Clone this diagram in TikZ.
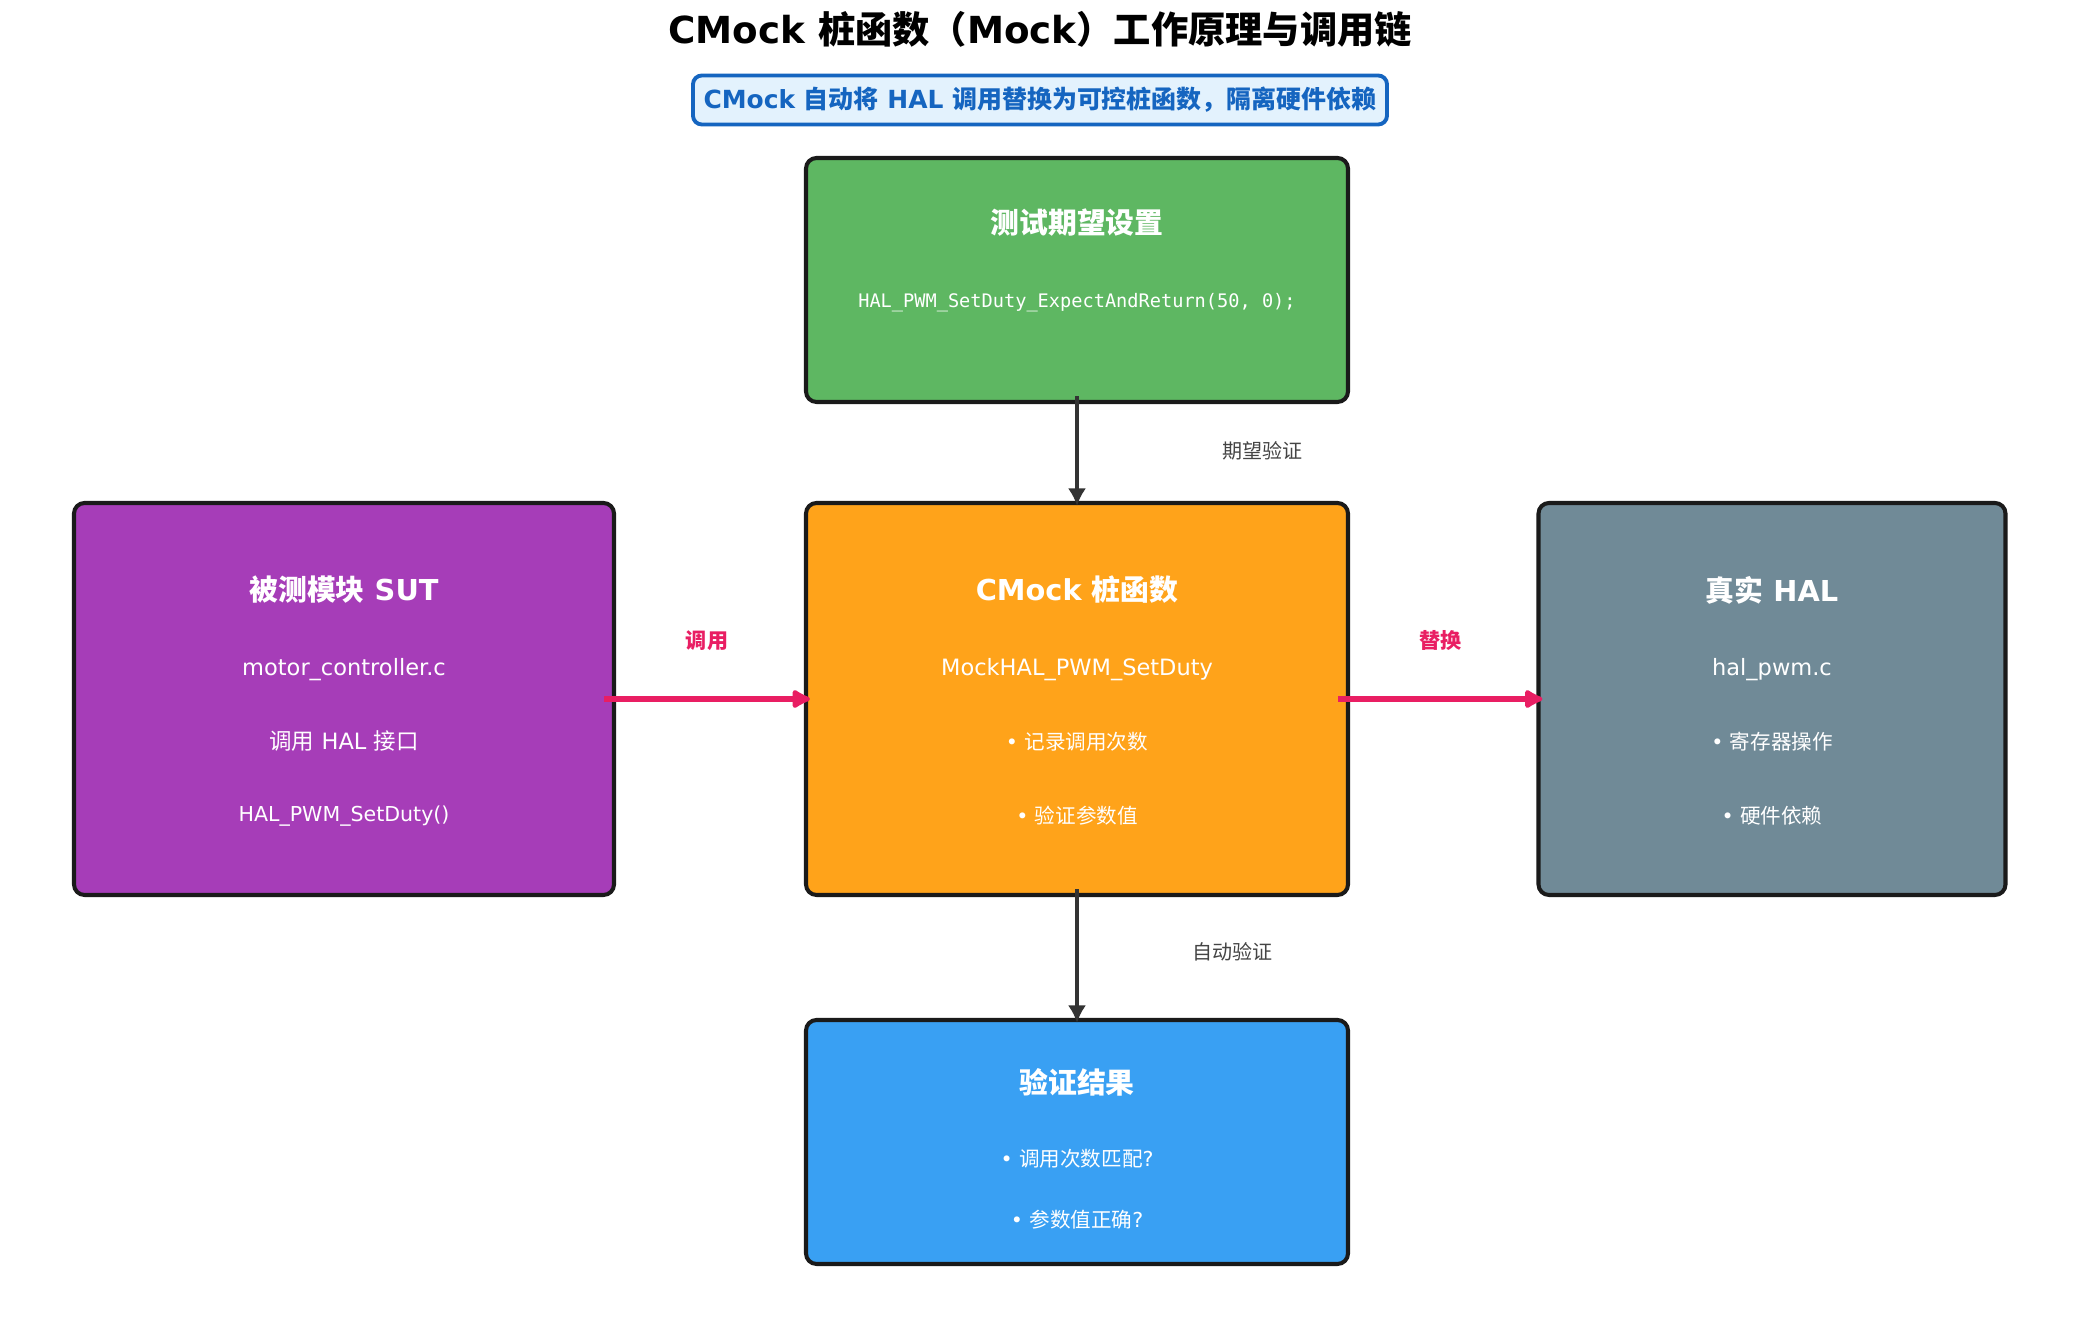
\documentclass[tikz,border=0pt]{standalone}
\usepackage{fontspec}
\setmainfont{DejaVu Sans}
\setmonofont{DejaVu Sans Mono}
\newfontfamily\cjkfont{Noto Sans CJK SC}
\newcommand{\zh}[1]{{\cjkfont #1}}
\usetikzlibrary{arrows.meta}

\begin{document}
\begin{tikzpicture}[>=Latex]
\definecolor{testgreen}{HTML}{5EB762}
\definecolor{sutpurple}{HTML}{A63DB8}
\definecolor{mockorange}{HTML}{FFA31A}
\definecolor{halgrey}{HTML}{708A97}
\definecolor{resultblue}{HTML}{39A0F3}
\definecolor{boxline}{HTML}{1A1A1A}
\definecolor{callpink}{HTML}{E91E63}
\definecolor{flowgrey}{HTML}{333333}
\definecolor{notegrey}{HTML}{444444}
\definecolor{notefill}{HTML}{E3F2FD}
\definecolor{noteblue}{HTML}{1565C0}
\tikzset{
  box/.style={draw=boxline,line width=1.15pt,rounded corners=3pt,inner sep=0pt},
  boxtitle/.style={text=white,font=\fontsize{8.2}{10}\selectfont\bfseries},
  boxline/.style={text=white,font=\fontsize{6.4}{8}\selectfont},
  boxitem/.style={text=white,font=\fontsize{5.85}{7}\selectfont},
  codeline/.style={text=white,font=\fontsize{5.3}{7}\selectfont\ttfamily},
  flow/.style={-{Latex[length=5pt,width=5.2pt]},flowgrey,line width=1.05pt},
  call/.style={-{Latex[length=6.2pt,width=6.4pt,round]},callpink,line width=1.6pt},
  flowlabel/.style={notegrey,font=\fontsize{5.7}{7}\selectfont},
  calllabel/.style={callpink,font=\fontsize{6}{7}\selectfont\bfseries}
}

\fill[white] (0,0) rectangle (20.8,-13.29);
\useasboundingbox (0,0) rectangle (20.8,-13.29);

% Heading and note.
\node[font=\fontsize{10.6}{12}\selectfont\bfseries] (title) at (10.40,-0.29)
  {CMock \zh{桩函数（}Mock\zh{）工作原理与调用链}};
\node[draw=noteblue,fill=notefill,line width=1.1pt,rounded corners=2.5pt,
  text=noteblue,font=\fontsize{7.1}{9}\selectfont\bfseries,
  inner xsep=3pt,minimum height=0.49cm] (note) at (10.40,-1.00)
  {CMock \zh{自动将} HAL \zh{调用替换为可控桩函数，隔离硬件依赖}};

% Boxes.
\node[box,fill=testgreen,minimum width=5.42cm,minimum height=2.44cm] (test) at (10.77,-2.80) {};
\node[box,fill=sutpurple,minimum width=5.40cm,minimum height=3.92cm] (sut) at (3.44,-6.99) {};
\node[box,fill=mockorange,minimum width=5.42cm,minimum height=3.92cm] (mock) at (10.77,-6.99) {};
\node[box,fill=halgrey,minimum width=4.67cm,minimum height=3.92cm] (hal) at (17.72,-6.99) {};
\node[box,fill=resultblue,minimum width=5.42cm,minimum height=2.44cm] (result) at (10.77,-11.42) {};

% Box texts.
\node[boxtitle] (test-title) at (10.77,-2.23) {\zh{测试期望设置}};
\node[codeline] (test-code) at (10.77,-3.03) {HAL\_PWM\_SetDuty\_ExpectAndReturn(50, 0);};

\node[boxtitle] (sut-title) at (3.44,-5.90) {\zh{被测模块} SUT};
\node[boxline] (sut-file) at (3.44,-6.70) {motor\_controller.c};
\node[boxline] (sut-use) at (3.44,-7.41) {\zh{调用} HAL \zh{接口}};
\node[boxitem] (sut-func) at (3.44,-8.16) {HAL\_PWM\_SetDuty()};

\node[boxtitle] (mock-title) at (10.77,-5.90) {CMock \zh{桩函数}};
\node[boxline] (mock-func) at (10.77,-6.70) {MockHAL\_PWM\_SetDuty};
\node[boxitem] (mock-count) at (10.77,-7.42) {• \zh{记录调用次数}};
\node[boxitem] (mock-args) at (10.77,-8.16) {• \zh{验证参数值}};

\node[boxtitle] (hal-title) at (17.72,-5.90) {\zh{真实} HAL};
\node[boxline] (hal-file) at (17.72,-6.70) {hal\_pwm.c};
\node[boxitem] (hal-reg) at (17.72,-7.42) {• \zh{寄存器操作}};
\node[boxitem] (hal-dep) at (17.72,-8.16) {• \zh{硬件依赖}};

\node[boxtitle] (result-title) at (10.77,-10.82) {\zh{验证结果}};
\node[boxitem] (result-count) at (10.77,-11.59) {• \zh{调用次数匹配}?};
\node[boxitem] (result-args) at (10.77,-12.20) {• \zh{参数值正确}?};

% Connectors.
\draw[flow] ([yshift=0.08cm]test.south) -- ([yshift=-0.05cm]mock.north)
  node[midway,right=1.32cm,flowlabel] (expect) {\zh{期望验证}};
\draw[flow] ([yshift=0.08cm]mock.south) -- ([yshift=-0.05cm]result.north)
  node[midway,right=1.02cm,yshift=0.04cm,flowlabel] (verify) {\zh{自动验证}};
\draw[call] ([xshift=-0.12cm]sut.east) -- ([xshift=0.06cm]mock.west)
  node[midway,above=0.34cm,calllabel] (calls) {\zh{调用}};
\draw[call] ([xshift=-0.12cm]mock.east) -- ([xshift=0.06cm]hal.west)
  node[midway,above=0.34cm,calllabel] (swaps) {\zh{替换}};
\end{tikzpicture}
\end{document}
